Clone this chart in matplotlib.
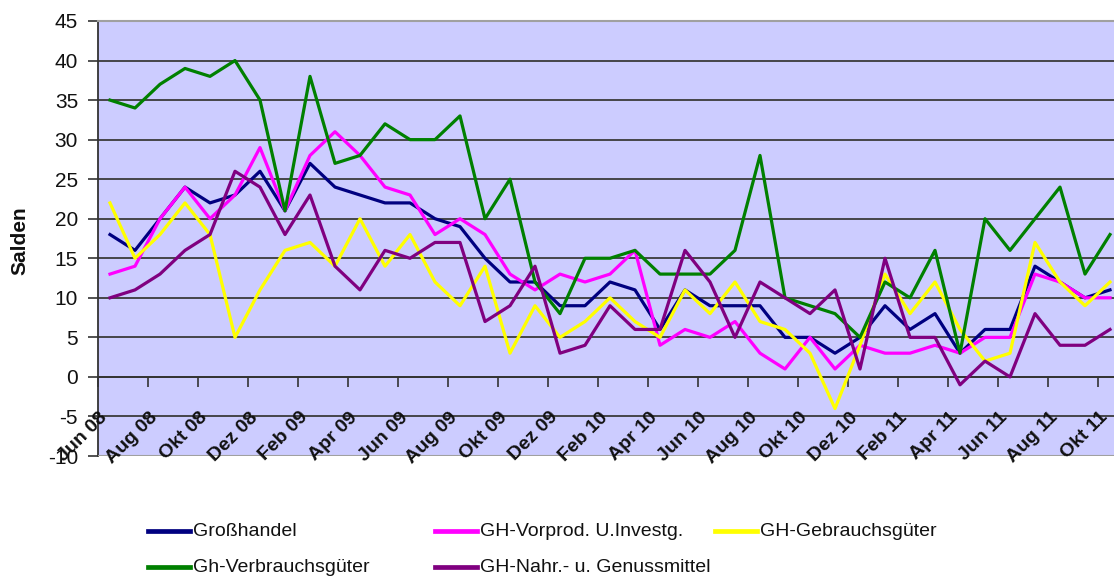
import matplotlib
matplotlib.use('Agg')
import matplotlib.pyplot as plt
from matplotlib.lines import Line2D
import numpy as np

W, H = 1114, 578

# months Jun 08 .. Okt 11
month_names = ['Jan', 'Feb', 'Mrz', 'Apr', 'Mai', 'Jun', 'Jul', 'Aug', 'Sep', 'Okt', 'Nov', 'Dez']
categories = []
for k in range(41):
    m = (5 + k) % 12
    y = 8 + (5 + k) // 12
    categories.append(f'{month_names[m]} {y:02d}')

grosshandel = [18, 16, 20, 24, 22, 23, 26, 21, 27, 24, 23, 22, 22, 20, 19, 15, 12, 12, 9, 9, 12,
               11, 6, 11, 9, 9, 9, 5, 5, 3, 5, 9, 6, 8, 3, 6, 6, 14, 12, 10, 11]
vorprod = [13, 14, 20, 24, 20, 23, 29, 21, 28, 31, 28, 24, 23, 18, 20, 18, 13, 11, 13, 12, 13,
           16, 4, 6, 5, 7, 3, 1, 5, 1, 4, 3, 3, 4, 3, 5, 5, 13, 12, 10, 10]
gebrauch = [22, 15, 18, 22, 18, 5, 11, 16, 17, 14, 20, 14, 18, 12, 9, 14, 3, 9, 5, 7, 10,
            7, 5, 11, 8, 12, 7, 6, 3, -4, 4, 13, 8, 12, 6, 2, 3, 17, 12, 9, 12]
verbrauch = [35, 34, 37, 39, 38, 40, 35, 21, 38, 27, 28, 32, 30, 30, 33, 20, 25, 12, 8, 15, 15,
             16, 13, 13, 13, 16, 28, 10, 9, 8, 5, 12, 10, 16, 3, 20, 16, 20, 24, 13, 18]
nahrung = [10, 11, 13, 16, 18, 26, 24, 18, 23, 14, 11, 16, 15, 17, 17, 7, 9, 14, 3, 4, 9,
           6, 6, 16, 12, 5, 12, 10, 8, 11, 1, 15, 5, 5, -1, 2, 0, 8, 4, 4, 6]

series_labels = ['Großhandel', 'GH-Vorprod. U.Investg.', 'GH-Gebrauchsgüter',
                 'Gh-Verbrauchsgüter', 'GH-Nahr.- u. Genussmittel']
series_data = [grosshandel, vorprod, gebrauch, verbrauch, nahrung]
series_colors = ['#000080', '#FF00FF', '#FFFF00', '#008000', '#800080']

plt.rcParams['font.family'] = ['Liberation Sans', 'DejaVu Sans']
plt.rcParams['axes.unicode_minus'] = False

fig = plt.figure(figsize=(W / 100, H / 100), dpi=100, facecolor='white')
ax = fig.add_axes([97.5 / W, 122 / H, (W - 97.5) / W, 435 / H])
ax.set_facecolor('#CCCCFF')

x = np.arange(len(categories))
lines = []
for data, col, lab in zip(series_data, series_colors, series_labels):
    ln, = ax.plot(x, data, color=col, lw=2.3, label=lab, zorder=3)
    lines.append(ln)

ax.set_xlim(-0.5, -0.5 + (W - 97.5) / 25)
ax.set_ylim(-10, 45)

# y axis
ax.set_yticks(np.arange(-10, 46, 5))
ax.tick_params(axis='y', direction='out', length=7, width=1.2, color='#333333',
               labelsize=15, pad=7, labelcolor='#111111')
ax.grid(axis='y', color='#3a3a3a', lw=1.3, zorder=1)
ax.set_axisbelow(True)

# category axis crossing at 0
ax.spines['bottom'].set_position(('data', 0))
ax.spines['bottom'].set_color('#333333')
ax.spines['bottom'].set_linewidth(1.3)
ax.spines['left'].set_color('#333333')
ax.spines['left'].set_linewidth(1.3)
ax.spines['top'].set_color('#A0A0A0')
ax.spines['top'].set_linewidth(1.5)
ax.spines['right'].set_visible(False)
ax.axhline(-10, color='#A0A0A0', lw=1.5, zorder=2.6)

ax.set_xticks(np.arange(-0.5, len(categories), 2))
ax.set_xticklabels([])
ax.tick_params(axis='x', direction='out', length=7, width=1.2, color='#333333')

for i in range(0, len(categories), 2):
    ax.text(i - 0.2, -4.8, categories[i], rotation=45, rotation_mode='anchor',
            ha='right', va='center', fontsize=14, fontweight='bold', color='#111111')

fig.text(20 / W, 1 - 241 / H, 'Salden', rotation=90, ha='center', va='center',
         fontsize=15, fontweight='bold', color='#111111')

# legend, laid out like the Excel one
slots = [(148, 531), (435, 531), (715, 531), (148, 567), (435, 567)]
for ln, (px, py) in zip(lines, slots):
    yy = 1 - py / H
    fig.add_artist(Line2D([px / W, (px + 42) / W], [yy, yy], color=ln.get_color(),
                          lw=3.4, transform=fig.transFigure))
    fig.text((px + 45) / W, yy, ln.get_label(), ha='left', va='center', fontsize=14,
             color='#111111')

fig.savefig('out.png', dpi=100, facecolor='white')
